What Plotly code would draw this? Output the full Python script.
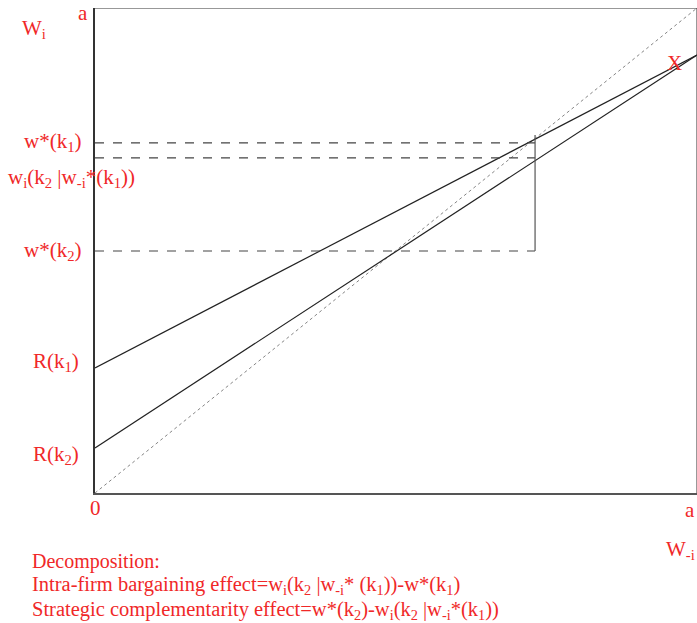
import plotly.graph_objects as go

# schematic wage reaction functions, axes run 0..a (a = 1)
a = 1.0
diag_x = [0, a]
diag_y = [0, a]

rk1_x = [0, a]
rk1_y = [0.258, 0.903]

rk2_x = [0, a]
rk2_y = [0.093, 0.903]

# equilibrium levels
x_star = 0.731
w_star_k1 = 0.722
w_i_k2 = 0.691
w_star_k2 = 0.499
vert_top = 0.738

RED = "#f02828"
FONT = "Liberation Serif"

fig = go.Figure()

fig.add_trace(go.Scatter(x=diag_x, y=diag_y, mode="lines",
                         line=dict(color="#666666", width=0.8, dash="dot")))
fig.add_trace(go.Scatter(x=rk1_x, y=rk1_y, mode="lines",
                         line=dict(color="#222222", width=1.2)))
fig.add_trace(go.Scatter(x=rk2_x, y=rk2_y, mode="lines",
                         line=dict(color="#222222", width=1.2)))

for lvl in [w_star_k1, w_i_k2, w_star_k2]:
    fig.add_trace(go.Scatter(x=[0, x_star], y=[lvl, lvl], mode="lines",
                             line=dict(color="#444444", width=1.2, dash="dash")))

fig.add_trace(go.Scatter(x=[x_star, x_star], y=[vert_top, w_star_k2], mode="lines",
                         line=dict(color="#555555", width=1.2)))

# frame: top and right edges
fig.add_trace(go.Scatter(x=[0, a, a], y=[a, a, 0], mode="lines",
                         line=dict(color="#333333", width=1)))


def px(x, y, text, anchor="left", size=21):
    return dict(x=(x - 95) / 602, y=(493 - y) / 485, xref="paper", yref="paper",
                text=text, showarrow=False, xanchor=anchor, yanchor="middle",
                font=dict(family=FONT, size=size, color=RED))


notes = [
    px(90, 13, "a", "right"),
    px(20, 29, "W<sub>i</sub>"),
    px(22, 142, "w*(k<sub>1</sub>)"),
    px(6, 178, "w<sub>i</sub>(k<sub>2</sub> |w<sub>-i</sub>*(k<sub>1</sub>))"),
    px(22, 251, "w*(k<sub>2</sub>)"),
    px(31, 362, "R(k<sub>1</sub>)"),
    px(31, 455, "R(k<sub>2</sub>)"),
    px(95, 508, "0", "center"),
    px(697, 510, "a", "right"),
    px(697, 550, "W<sub>-i</sub>", "right"),
    px(665, 63, "X"),
    px(30, 561, "Decomposition:", size=20),
    px(30, 585, "Intra-firm bargaining effect=w<sub>i</sub>(k<sub>2</sub> |w<sub>-i</sub>* (k<sub>1</sub>))-w*(k<sub>1</sub>)", size=20.5),
    px(30, 610, "Strategic complementarity effect=w*(k<sub>2</sub>)-w<sub>i</sub>(k<sub>2</sub> |w<sub>-i</sub>*(k<sub>1</sub>))", size=20.5),
]

fig.update_layout(
    width=697, height=623,
    margin=dict(l=95, r=0, t=8, b=130),
    plot_bgcolor="white", paper_bgcolor="white",
    showlegend=False,
    annotations=notes,
    xaxis=dict(range=[0, a], showgrid=False, zeroline=False, showticklabels=False,
               showline=True, linecolor="#555555", linewidth=2, ticks=""),
    yaxis=dict(range=[0, a], showgrid=False, zeroline=False, showticklabels=False,
               showline=True, linecolor="#333333", linewidth=1.5, ticks=""),
)

fig.write_html("out.html", config={"displayModeBar": False},
               post_script="document.body.style.margin='0';")
